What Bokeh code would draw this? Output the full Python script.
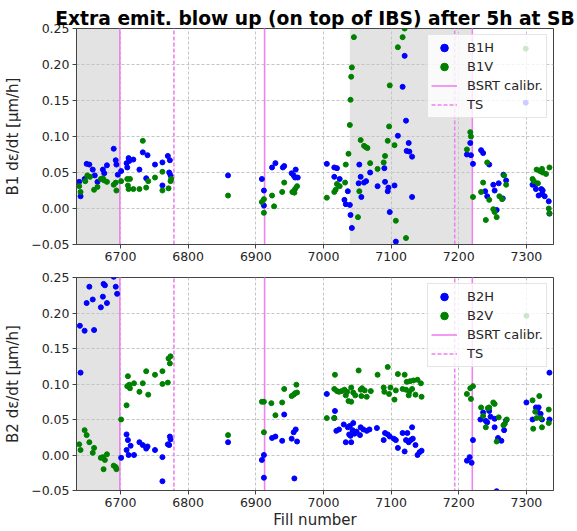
from bokeh.plotting import figure
from bokeh.layouts import column
from bokeh.models import (Range1d, BoxAnnotation, Legend, LegendItem, FixedTicker,
                          CustomJSTickFormatter)
from bokeh.embed import file_html
from bokeh.resources import INLINE

TITLE = "Extra emit. blow up (on top of IBS) after 5h at SB"
X_TICKS = [6700, 6800, 6900, 7000, 7100, 7200, 7300]
Y_TICKS = [-0.05, 0.0, 0.05, 0.10, 0.15, 0.20, 0.25]
X_RANGE = (6635, 7340)
Y_RANGE = (-0.05, 0.25)

BSRT_CALIBR = [6699, 6913, 7220]
TS_FILLS = [6779, 7194]
SHADE_B1 = [(6635, 6698), (7039, 7219)]
SHADE_B2 = [(6635, 6698)]

b1h_fill = [6639, 6641, 6647, 6650, 6654, 6659, 6662, 6666, 6674, 6676, 6680, 6690, 6693, 6694, 6696,
            6701, 6709, 6710, 6712, 6713, 6719, 6728, 6733, 6740, 6738, 6751, 6762, 6762, 6770, 6773,
            6772, 6774, 6859, 6909, 6912, 6912, 6924, 6929, 6940, 6942, 6953, 6956, 6959, 6958, 6962,
            7005, 7016, 7020, 7016, 7024, 7031, 7033, 7039, 7036, 7040, 7042, 7053, 7055, 7052, 7056,
            7060, 7063, 7069, 7080, 7090, 7091, 7096, 7095, 7098, 7105, 7107, 7110, 7117, 7120, 7122,
            7126, 7123, 7127, 7131, 7131, 7212, 7217, 7218, 7221, 7233, 7236, 7245, 7266, 7270, 7251,
            7259, 7239, 7253, 7242, 7265, 7256, 7299, 7309, 7314, 7322, 7324, 7318, 7323, 7327, 7333,
            7334, 7314]
b1h_val = [0.037, 0.017, 0.041, 0.062, 0.061, 0.054, 0.046, 0.037, 0.054, 0.049, 0.060, 0.083, 0.067, 0.061, 0.047,
           0.052, 0.063, 0.057, 0.070, 0.066, 0.068, 0.054, 0.078, 0.074, 0.042, 0.061, 0.064, 0.032, 0.073, 0.067,
           0.050, 0.046, 0.046, 0.041, 0.025, 0.004, 0.057, 0.063, 0.057, 0.059, 0.049, 0.046, 0.054, 0.043, 0.043,
           0.062, 0.057, 0.056, 0.044, 0.041, 0.012, 0.006, 0.005, 0.024, -0.009, -0.027, 0.061, 0.044, 0.035, 0.016,
           0.036, 0.038, 0.050, 0.031, 0.056, 0.037, 0.029, 0.024, -0.005, 0.032, -0.046, 0.101, 0.169, 0.212, 0.122,
           0.091, 0.080, 0.079, 0.072, 0.016, 0.075, 0.091, 0.074, 0.062, 0.081, 0.077, 0.061, 0.047, 0.039, 0.033,
           0.035, 0.024, 0.025, 0.017, 0.014, -0.002, 0.147, 0.033, 0.027, 0.027, 0.025, 0.018, 0.020, 0.017, 0.010,
           -0.007, 0.034]

b1v_fill = [6639, 6641, 6648, 6651, 6655, 6661, 6666, 6671, 6674, 6676, 6680, 6690, 6693, 6694,
            6701, 6710, 6711, 6714, 6712, 6719, 6728, 6733, 6738, 6741, 6751, 6762, 6762, 6771, 6774,
            6775, 6859, 6909, 6912, 6912, 6924, 6927, 6939, 6942, 6954, 6957, 6958, 6961,
            7005, 7016, 7018, 7020, 7024, 7032, 7033, 7037, 7039, 7040, 7041, 7042, 7045, 7051, 7053,
            7055, 7060, 7063, 7065, 7069, 7080, 7089, 7091, 7095, 7097, 7098, 7105, 7107, 7110, 7117,
            7120, 7122, 7212, 7217, 7218, 7221, 7233, 7242, 7236, 7245, 7260, 7264, 7251, 7253, 7256,
            7240, 7267, 7270, 7299, 7309, 7311, 7315, 7320, 7323, 7324, 7329, 7334, 7317, 7333, 7334]
b1v_val = [0.031, 0.023, 0.038, 0.046, 0.044, 0.026, 0.030, 0.041, 0.042, 0.039, 0.037, 0.033, 0.036, 0.025,
           0.038, 0.041, 0.032, 0.041, 0.027, 0.027, 0.027, 0.094, 0.029, 0.038, 0.043, 0.051, 0.025, 0.028, 0.038,
           0.041, 0.018, 0.009, 0.013, -0.006, 0.018, 0.003, 0.023, 0.036, 0.023, 0.022, 0.027, 0.031,
           0.015, 0.023, 0.026, 0.034, 0.031, 0.036, 0.061, 0.076, 0.116, 0.151, 0.183, 0.196, 0.238, -0.012, 0.024,
           0.095, 0.087, 0.085, 0.084, 0.063, 0.055, 0.064, 0.073, 0.094, 0.114, 0.171, 0.088, -0.017, 0.224, 0.238,
           0.250, -0.041, 0.082, 0.106, 0.100, 0.016, 0.023, 0.064, 0.036, 0.012, 0.017, 0.013, -0.001, -0.005, -0.012,
           -0.016, 0.046, 0.033, 0.222, 0.041, 0.038, 0.054, 0.052, 0.055, 0.050, 0.048, 0.057, 0.035, 0.000, -0.007]

b2h_fill = [6640, 6641, 6647, 6650, 6654, 6659, 6661, 6671, 6674, 6675, 6677, 6680, 6690, 6693, 6695,
            6701, 6709, 6711, 6715, 6709, 6712, 6720, 6728, 6733, 6738, 6740, 6751, 6762, 6762, 6770,
            6773, 6774, 6772, 6859, 6909, 6912, 6912, 6924, 6929, 6939, 6942, 6953, 6956, 6959, 6961, 6957,
            7005, 7016, 7017, 7019, 7023, 7030, 7033, 7036, 7039, 7041, 7038, 7040, 7044, 7043, 7046,
            7049, 7054, 7055, 7059, 7064, 7068, 7079, 7089, 7091, 7095, 7098, 7104, 7107, 7110, 7117,
            7120, 7122, 7124, 7126, 7129, 7131, 7132, 7136, 7139, 7142, 7145, 7212, 7216, 7219, 7221,
            7232, 7236, 7240, 7242, 7245, 7247, 7253, 7253, 7258, 7263, 7267, 7270, 7256, 7300, 7309,
            7314, 7318, 7321, 7323, 7334, 7334, 7316]
b2h_val = [0.182, 0.116, 0.175, 0.214, 0.237, 0.219, 0.176, 0.208, 0.223, 0.241, 0.239, 0.214, 0.251, 0.237, 0.227,
           -0.004, 0.029, 0.021, 0.013, 0.007, 0.000, 0.000, 0.018, 0.014, 0.009, 0.012, 0.007, -0.003, -0.037, 0.015,
           0.026, 0.022, 0.014, 0.018, -0.007, 0.000, -0.032, 0.024, 0.026, 0.020, 0.057, 0.023, 0.032, 0.036, 0.019, -0.033,
           0.086, 0.052, 0.062, 0.034, 0.036, 0.043, 0.018, 0.039, 0.041, 0.018, 0.029, 0.027, 0.045, 0.035, 0.030,
           0.033, 0.028, 0.039, 0.036, 0.034, 0.036, 0.038, 0.021, 0.031, 0.029, 0.026, 0.023, 0.021, 0.010, 0.031,
           0.005, 0.021, 0.031, 0.018, 0.021, 0.039, 0.023, 0.014, 0.000, 0.004, 0.006, -0.008, -0.003, -0.011, 0.021,
           0.050, 0.060, 0.048, 0.046, 0.062, 0.054, 0.051, 0.039, 0.024, 0.020, 0.035, 0.049, -0.051, 0.074, 0.050,
           0.067, 0.067, 0.058, 0.050, 0.116, 0.050, 0.061]

b2v_fill = [6639, 6641, 6647, 6650, 6654, 6661, 6659, 6671, 6674, 6677, 6680, 6675, 6690, 6693, 6694,
            6701, 6709, 6710, 6711, 6714, 6713, 6720, 6728, 6733, 6738, 6741, 6751, 6762, 6762, 6770,
            6773, 6774, 6771, 6859, 6909, 6912, 6912, 6923, 6929, 6939, 6942, 6953, 6956, 6958, 6961, 6960,
            7005, 7016, 7017, 7016, 7020, 7023, 7027, 7031, 7033, 7035, 7037, 7041, 7041, 7044, 7047,
            7052, 7055, 7056, 7057, 7061, 7064, 7070, 7080, 7089, 7090, 7095, 7097, 7099, 7105, 7107,
            7110, 7120, 7117, 7122, 7123, 7126, 7127, 7128, 7131, 7133, 7136, 7139, 7144, 7145,
            7212, 7217, 7221, 7218, 7233, 7236, 7243, 7245, 7251, 7253, 7259, 7266, 7268, 7271, 7240,
            7256, 7300, 7309, 7319, 7313, 7310, 7323, 7333, 7333, 7315, 7321]
b2v_val = [0.015, 0.007, 0.035, 0.028, 0.018, 0.010, 0.003, -0.004, -0.003, -0.007, 0.001, -0.020, -0.015, -0.017, -0.020,
           0.050, 0.070, 0.097, 0.111, 0.094, 0.099, 0.101, 0.089, 0.101, 0.118, 0.085, 0.113, 0.118, 0.100, 0.102,
           0.129, 0.139, 0.136, 0.028, 0.075, 0.075, 0.032, 0.073, 0.056, 0.074, 0.093, 0.083, 0.085, 0.087, 0.088, 0.099,
           0.052, 0.052, 0.113, 0.093, 0.090, 0.089, 0.090, 0.092, 0.084, 0.089, 0.076, 0.095, 0.075, 0.088, 0.084,
           0.119, 0.092, 0.083, 0.094, 0.091, 0.082, 0.090, 0.113, 0.095, 0.089, 0.124, 0.086, 0.095, 0.078, 0.091,
           0.114, 0.113, 0.093, 0.092, 0.103, 0.084, 0.089, 0.104, 0.093, 0.105, 0.085, 0.106, 0.101, 0.082,
           0.086, 0.094, 0.097, 0.079, 0.067, 0.055, 0.066, 0.067, 0.074, 0.072, 0.053, 0.042, 0.044, 0.050, 0.039,
           0.019, 0.196, 0.077, 0.083, 0.061, 0.037, 0.039, 0.045, 0.064, 0.052, 0.052]

FONT = "DejaVu Sans"
TXT = "#262626"

x_range = Range1d(*X_RANGE)

yfmt_code = "return (tick < -1e-9 ? '\u2212' : '') + Math.abs(tick).toFixed(2);"


def panel(hfill, hval, vfill, vval, hlabel, vlabel, ylabel, shades, height, top, bottom, xlabel=None):
    p = figure(width=577, height=height, x_range=x_range, y_range=Range1d(*Y_RANGE),
               output_backend="svg", toolbar_location=None,
               min_border_left=76, min_border_right=24, min_border_top=top, min_border_bottom=bottom)
    p.background_fill_color = "white"
    p.border_fill_color = "white"
    p.outline_line_color = "#444444"
    p.outline_line_width = 1

    for (a, b) in shades:
        p.add_layout(BoxAnnotation(left=a, right=b, fill_color="gray", fill_alpha=0.22,
                                   line_color=None, level="image"))

    for g in (p.xgrid, p.ygrid):
        g.grid_line_color = "#c4c4c4"
        g.grid_line_dash = "3 2"
        g.grid_line_width = 1
    p.xgrid.ticker = FixedTicker(ticks=X_TICKS)
    p.ygrid.ticker = FixedTicker(ticks=Y_TICKS)

    p.xaxis.ticker = FixedTicker(ticks=X_TICKS)
    p.yaxis.ticker = FixedTicker(ticks=Y_TICKS)
    p.yaxis.formatter = CustomJSTickFormatter(code=yfmt_code)
    for ax in (p.xaxis[0], p.yaxis[0]):
        ax.major_label_text_font = FONT
        ax.major_label_text_font_size = "12.5px"
        ax.major_label_text_color = TXT
        ax.axis_label_text_font = FONT
        ax.axis_label_text_font_size = "15px"
        ax.axis_label_text_font_style = "normal"
        ax.axis_label_text_color = TXT
        ax.axis_line_color = "#444444"
        ax.major_tick_line_color = "#444444"
        ax.major_tick_out = 4
        ax.major_tick_in = 0
        ax.minor_tick_line_color = None
        ax.major_label_standoff = 3
    p.yaxis.axis_label = ylabel
    p.yaxis.axis_label_standoff = 6
    if xlabel:
        p.xaxis.axis_label = xlabel
        p.xaxis.axis_label_standoff = 1

    n1 = len(BSRT_CALIBR)
    r_bsrt = p.segment(x0=BSRT_CALIBR, y0=[Y_RANGE[0] - 1] * n1, x1=BSRT_CALIBR, y1=[Y_RANGE[1] + 1] * n1,
                       line_color="violet", line_width=1.6)
    n2 = len(TS_FILLS)
    r_ts = p.segment(x0=TS_FILLS, y0=[Y_RANGE[0] - 1] * n2, x1=TS_FILLS, y1=[Y_RANGE[1] + 1] * n2,
                     line_color="violet", line_width=1.6, line_dash="4 2")

    r_h = p.scatter(hfill, hval, size=5, color="blue")
    r_v = p.scatter(vfill, vval, size=5, color="green")

    leg = Legend(items=[LegendItem(label=hlabel, renderers=[r_h]),
                        LegendItem(label=vlabel, renderers=[r_v]),
                        LegendItem(label="BSRT calibr.", renderers=[r_bsrt]),
                        LegendItem(label="TS", renderers=[r_ts])],
                 location="top_right")
    leg.label_text_font = FONT
    leg.label_text_font_size = "13px"
    leg.label_text_color = TXT
    leg.glyph_width = 26
    leg.glyph_height = 19
    leg.label_height = 19
    leg.label_standoff = 10
    leg.spacing = 0
    leg.padding = 3
    leg.margin = 6
    leg.border_line_color = "#cccccc"
    leg.background_fill_alpha = 0.8
    p.add_layout(leg)
    return p


p1 = panel(b1h_fill, b1h_val, b1v_fill, b1v_val, "B1H", "B1V", "B1 d\u03b5/dt [\u03bcm/h]",
           SHADE_B1, height=269, top=28, bottom=25)
p1.title.text = TITLE
p1.title.align = "center"
p1.title.text_font = FONT
p1.title.text_font_style = "bold"
p1.title.text_font_size = "18.7px"
p1.title.text_color = "black"
p1.title.standoff = 0

p2 = panel(b2h_fill, b2h_val, b2v_fill, b2v_val, "B2H", "B2V", "B2 d\u03b5/dt [\u03bcm/h]",
           SHADE_B2, height=262, top=8, bottom=38, xlabel="Fill number")

layout = column(p1, p2, spacing=0)
open("out.html", "w").write(file_html(layout, INLINE))
